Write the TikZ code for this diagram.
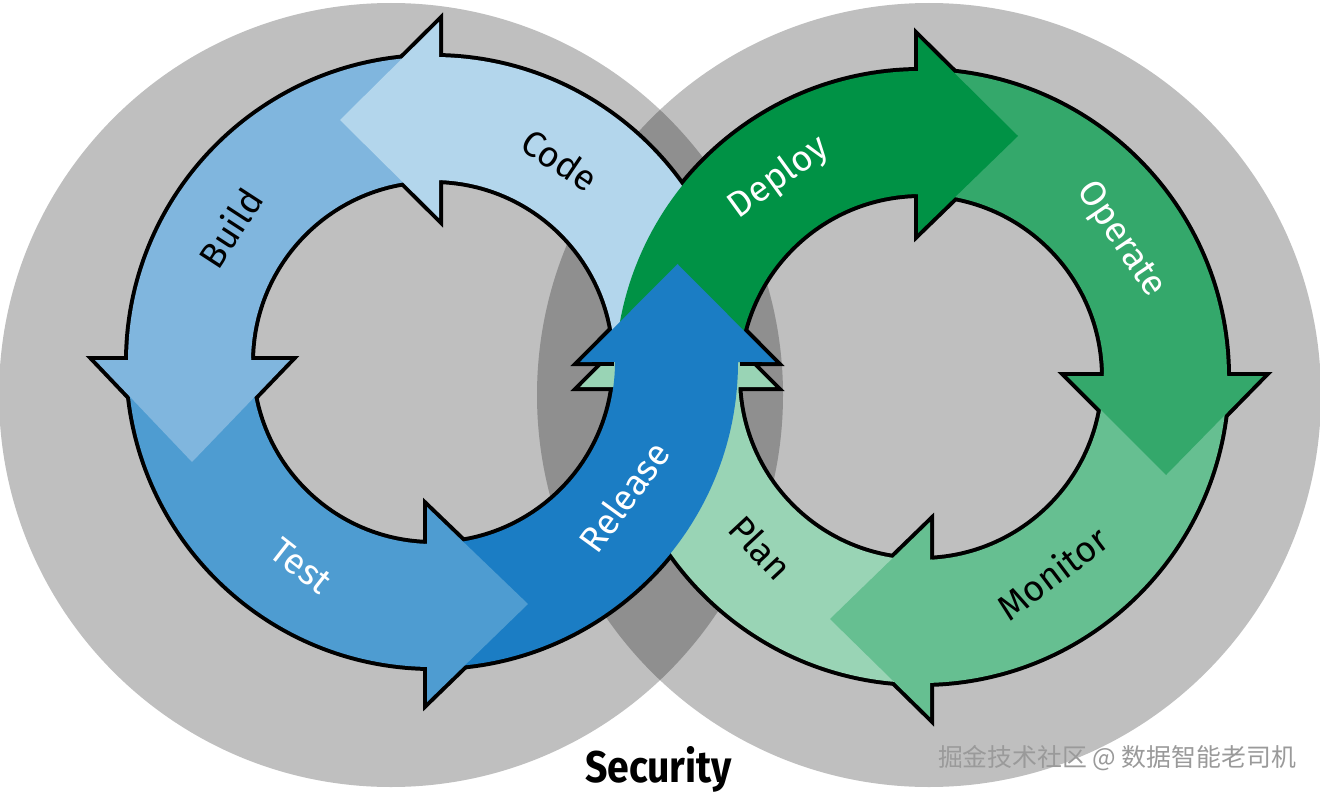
\documentclass[tikz,border=0pt]{standalone}
\usepackage{fontspec}
\setmainfont{Fira Sans}
\newfontfamily\cjkfont{Noto Sans CJK SC}
\definecolor{cCode}{HTML}{B3D6EC}
\definecolor{cBuild}{HTML}{80B6DE}
\definecolor{cTest}{HTML}{4E9CD1}
\definecolor{cRelease}{HTML}{1B7DC4}
\definecolor{cDeploy}{HTML}{009245}
\definecolor{cOperate}{HTML}{34A86B}
\definecolor{cMonitor}{HTML}{66BF91}
\definecolor{cPlan}{HTML}{99D4B5}
\definecolor{wmark}{HTML}{9A9A9A}
\newcommand{\Lring}[1]{\fill[#1,even odd rule] (L) circle[radius=305pt] (L) circle[radius=182pt];}
\newcommand{\Rring}[1]{\fill[#1,even odd rule] (R) circle[radius=306pt] (R) circle[radius=183pt];}
\begin{document}
\begin{tikzpicture}[x=1pt,y=-1pt,
  outline/.style={line width=8pt, draw=black, miter limit=10},
  lbl/.style={font=\fontsize{36}{40}\selectfont, inner sep=0pt},
  secshade/.style={fill=black, opacity=0.25},
]
\useasboundingbox (0,0) rectangle (1320,792);
\fill[white] (0,0) rectangle (1320,792);
% security circles
\fill[secshade] (391,395) circle[radius=392pt];
\fill[secshade] (929,395) circle[radius=392pt];

\coordinate (L) at (433,362);
\coordinate (R) at (921,377);

% ---------- outlines (drawn first, fills cover inner half)
\draw[outline] (L) circle[radius=305pt] (L) circle[radius=182pt];
\draw[outline] (R) circle[radius=306pt] (R) circle[radius=183pt];
\draw[outline] (439,22) -- (340,120) -- (439,218) -- cycle;
\draw[outline] (290,360) -- (192,462) -- (95,360) -- cycle;
\draw[outline] (427,507) -- (528,604) -- (427,702) -- cycle;
\draw[outline] (580,362) -- (677.5,264) -- (775,362) -- cycle;
\draw[outline] (918,37) -- (1018,136) -- (918,233) -- cycle;
\draw[outline] (1067,376) -- (1166,475) -- (1263,376) -- cycle;
\draw[outline] (930,522) -- (830,619) -- (930,717) -- cycle;
\draw[outline] (580,387) -- (677.5,289) -- (775,387) -- cycle;

% ---------- left ring bodies
\begin{scope}\clip (439,0) rectangle (800,362); \Lring{cCode} \end{scope}
\begin{scope}\clip (0,0) rectangle (439,360); \Lring{cBuild} \end{scope}
\begin{scope}\clip (0,360) rectangle (427,792); \Lring{cTest} \end{scope}
% seam strips under the heads
\begin{scope}\clip (436,0) rectangle (441,362); \Lring{cCode} \end{scope}
\begin{scope}\clip (0,358) rectangle (439,363); \Lring{cBuild} \end{scope}
\begin{scope}\clip (425,360) rectangle (430,792); \Lring{cTest} \end{scope}
% left heads
\fill[cCode] (439,22) -- (340,120) -- (439,218) -- cycle;
\fill[cBuild] (290,360) -- (192,462) -- (95,360) -- cycle;

% ---------- right ring bodies
\begin{scope}\clip (500,0) rectangle (918,387); \Rring{cDeploy} \end{scope}
\begin{scope}\clip (918,0) rectangle (1320,376); \Rring{cOperate} \end{scope}
\begin{scope}\clip (930,376) rectangle (1320,792); \Rring{cMonitor} \end{scope}
\begin{scope}\clip (500,387) rectangle (930,792); \Rring{cPlan} \end{scope}
% seam strips
\begin{scope}\clip (916,0) rectangle (921,387); \Rring{cDeploy} \end{scope}
\begin{scope}\clip (918,374) rectangle (1320,379); \Rring{cOperate} \end{scope}
\begin{scope}\clip (927,376) rectangle (932,792); \Rring{cMonitor} \end{scope}
\begin{scope}\clip (500,384) rectangle (930,389); \Rring{cPlan} \end{scope}
% right heads
\fill[cDeploy] (918,37) -- (1018,136) -- (918,233) -- cycle;
\fill[cOperate] (1067,376) -- (1166,475) -- (1263,376) -- cycle;
\fill[cMonitor] (930,522) -- (830,619) -- (930,717) -- cycle;
\fill[cPlan] (580,387) -- (677.5,289) -- (775,387) -- cycle;

% ---------- release arrow on top, then the test head
\begin{scope}\clip (429,359) rectangle (800,792); \Lring{cRelease} \end{scope}
\fill[cRelease] (580,362) -- (677.5,264) -- (775,362) -- cycle;
\fill[cTest] (427,507) -- (528,604) -- (427,702) -- cycle;
\draw[line width=4pt] (592,364) -- (614,364);
\draw[line width=4pt] (739.5,364) -- (762,364);

% ---------- labels
\node[lbl, rotate=-34] (tcode) at (560,160) {Code};
\node[lbl, rotate=57] (tbuild) at (230,228) {Build};
\node[lbl, rotate=-38, text=white] (ttest) at (301,566) {Test};
\node[lbl, rotate=54, text=white] (trelease) at (624,497) {Release};
\node[lbl, rotate=36, text=white] (tdeploy) at (779,178) {Deploy};
\node[lbl, rotate=-56, text=white] (toperate) at (1120,240) {Operate};
\node[lbl, rotate=37] (tmonitor) at (1052,573) {Monitor};
\node[lbl, rotate=-47] (tplan) at (761,548) {Plan};

\node[anchor=base, inner sep=0pt] (tsec) at (658.5,782)
  {\resizebox{147pt}{36pt}{\bfseries Security}};
\node[anchor=base, inner sep=0pt, text=wmark] (twm) at (1117,766)
  {\resizebox{358pt}{!}{\cjkfont 掘金技术社区 @ 数据智能老司机}};
\end{tikzpicture}
\end{document}
